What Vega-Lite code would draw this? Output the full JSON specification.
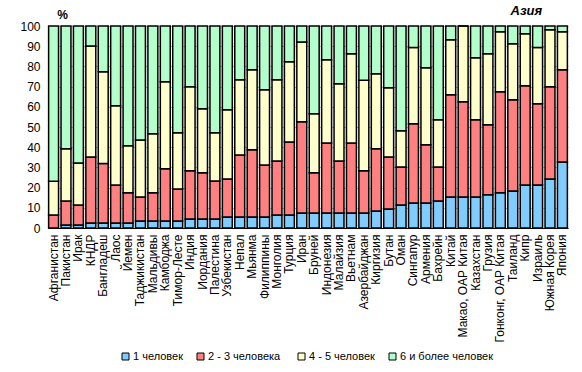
{
  "$schema": "https://vega.github.io/schema/vega-lite/v6.json",
  "width": 520,
  "height": 202,
  "autosize": {"type": "none"},
  "padding": {"left": 48, "top": 26, "right": 14, "bottom": 144},
  "background": "white",
  "config": {
    "font": "Liberation Sans",
    "view": {"stroke": null},
    "axis": {"labelColor": "black", "labelFont": "Liberation Sans", "titleFont": "Liberation Sans"}
  },
  "title": {
    "text": "Азия",
    "anchor": "end",
    "dx": -26,
    "offset": -10,
    "fontSize": 13,
    "fontStyle": "italic",
    "fontWeight": "bold",
    "color": "black",
    "font": "Liberation Sans"
  },
  "data": {
    "values": [
      {"country": "Афганистан", "p1": 0, "p2": 6.4, "p3": 16.7, "p4": 76.9},
      {"country": "Пакистан", "p1": 1.5, "p2": 11.9, "p3": 25.8, "p4": 60.8},
      {"country": "Ирак", "p1": 1.5, "p2": 9.9, "p3": 20.8, "p4": 67.8},
      {"country": "КНДР", "p1": 2.5, "p2": 32.7, "p3": 54.9, "p4": 9.9},
      {"country": "Бангладеш", "p1": 2.5, "p2": 29.4, "p3": 45.5, "p4": 22.6},
      {"country": "Лаос", "p1": 2.5, "p2": 18.8, "p3": 39.2, "p4": 39.5},
      {"country": "Йемен", "p1": 2.5, "p2": 14.9, "p3": 23.3, "p4": 59.3},
      {"country": "Таджикистан", "p1": 3.5, "p2": 11.9, "p3": 28.2, "p4": 56.4},
      {"country": "Мальдивы", "p1": 3.5, "p2": 13.9, "p3": 29.2, "p4": 53.4},
      {"country": "Камбоджа", "p1": 3.5, "p2": 25.8, "p3": 43.1, "p4": 27.6},
      {"country": "Тимор-Лесте", "p1": 3.5, "p2": 15.8, "p3": 27.8, "p4": 52.9},
      {"country": "Индия", "p1": 4.5, "p2": 23.8, "p3": 41.6, "p4": 30.1},
      {"country": "Иордания", "p1": 4.5, "p2": 22.8, "p3": 31.7, "p4": 41.0},
      {"country": "Палестина", "p1": 4.5, "p2": 18.8, "p3": 23.8, "p4": 52.9},
      {"country": "Узбекистан", "p1": 5.5, "p2": 18.8, "p3": 34.2, "p4": 41.5},
      {"country": "Непал", "p1": 5.5, "p2": 30.7, "p3": 37.2, "p4": 26.6},
      {"country": "Мьянма", "p1": 5.5, "p2": 33.2, "p3": 39.6, "p4": 21.7},
      {"country": "Филиппины", "p1": 5.5, "p2": 25.7, "p3": 37.2, "p4": 31.6},
      {"country": "Монголия", "p1": 6.4, "p2": 26.8, "p3": 40.2, "p4": 26.6},
      {"country": "Турция", "p1": 6.4, "p2": 36.2, "p3": 39.7, "p4": 17.7},
      {"country": "Иран", "p1": 7.4, "p2": 45.2, "p3": 39.5, "p4": 7.9},
      {"country": "Бруней", "p1": 7.4, "p2": 19.9, "p3": 29.2, "p4": 43.5},
      {"country": "Индонезия", "p1": 7.4, "p2": 34.7, "p3": 41.2, "p4": 16.7},
      {"country": "Малайзия", "p1": 7.4, "p2": 25.8, "p3": 38.2, "p4": 28.6},
      {"country": "Вьетнам", "p1": 7.4, "p2": 34.7, "p3": 44.2, "p4": 13.7},
      {"country": "Азербайджан", "p1": 7.4, "p2": 20.9, "p3": 44.8, "p4": 26.9},
      {"country": "Киргизия", "p1": 8.4, "p2": 30.8, "p3": 37.2, "p4": 23.6},
      {"country": "Бутан", "p1": 9.4, "p2": 25.8, "p3": 34.2, "p4": 30.6},
      {"country": "Оман", "p1": 11.4, "p2": 18.8, "p3": 17.9, "p4": 51.9},
      {"country": "Сингапур", "p1": 12.4, "p2": 39.2, "p3": 37.7, "p4": 10.7},
      {"country": "Армения", "p1": 12.4, "p2": 28.8, "p3": 38.1, "p4": 20.7},
      {"country": "Бахрейн", "p1": 13.4, "p2": 16.8, "p3": 23.4, "p4": 46.4},
      {"country": "Китай", "p1": 15.4, "p2": 50.6, "p3": 27.2, "p4": 6.8},
      {"country": "Макао, ОАР Китая", "p1": 15.4, "p2": 47.1, "p3": 37.5, "p4": 0},
      {"country": "Казахстан", "p1": 15.4, "p2": 38.2, "p3": 30.7, "p4": 15.7},
      {"country": "Грузия", "p1": 16.4, "p2": 34.7, "p3": 35.2, "p4": 13.7},
      {"country": "Гонконг, ОАР Китая", "p1": 17.4, "p2": 50.0, "p3": 29.8, "p4": 2.8},
      {"country": "Таиланд", "p1": 18.3, "p2": 45.2, "p3": 27.7, "p4": 8.8},
      {"country": "Кипр", "p1": 21.3, "p2": 49.1, "p3": 25.8, "p4": 3.8},
      {"country": "Израиль", "p1": 21.3, "p2": 40.2, "p3": 27.8, "p4": 10.7},
      {"country": "Южная Корея", "p1": 24.3, "p2": 45.6, "p3": 28.3, "p4": 1.8},
      {"country": "Япония", "p1": 32.7, "p2": 45.6, "p3": 18.9, "p4": 2.8}
    ]
  },
  "transform": [
    {"fold": ["p1", "p2", "p3", "p4"], "as": ["group", "value"]}
  ],
  "mark": {"type": "bar", "stroke": "black", "strokeWidth": 1.5},
  "encoding": {
    "x": {
      "field": "country",
      "type": "nominal",
      "sort": null,
      "scale": {"paddingInner": 0.2, "paddingOuter": 0.05},
      "axis": {
        "title": null,
        "labelAngle": -90,
        "labelFontSize": 12,
        "labelPadding": 6,
        "ticks": false,
        "domainColor": "black",
        "labelOverlap": false
      }
    },
    "y": {
      "field": "value",
      "type": "quantitative",
      "stack": "zero",
      "scale": {"domain": [0, 100], "nice": false},
      "axis": {
        "title": "%",
        "titleAngle": 0,
        "titleAlign": "center",
        "titleBaseline": "middle",
        "titleX": 14,
        "titleY": -12,
        "titleFontSize": 12,
        "titleFontWeight": "bold",
        "titleColor": "black",
        "values": [0, 10, 20, 30, 40, 50, 60, 70, 80, 90, 100],
        "labelFontSize": 12,
        "labelPadding": 8,
        "ticks": false,
        "domainColor": "black",
        "grid": true,
        "gridColor": "#b0b0b0",
        "gridWidth": 1
      }
    },
    "color": {
      "field": "group",
      "type": "nominal",
      "scale": {
        "domain": ["p1", "p2", "p3", "p4"],
        "range": ["#80ccff", "#ff8080", "#ffffcc", "#b3ffcc"]
      },
      "legend": {
        "title": null,
        "orient": "none",
        "direction": "horizontal",
        "columns": 4,
        "legendX": 72,
        "legendY": 325,
        "symbolType": "square",
        "symbolSize": 49,
        "symbolStrokeColor": "black",
        "symbolStrokeWidth": 1,
        "symbolOpacity": 1,
        "labelFontSize": 11,
        "labelColor": "black",
        "labelOffset": 2,
        "columnPadding": 12,
        "labelExpr": "datum.value == 'p1' ? '1 человек' : datum.value == 'p2' ? '2 - 3  человека' : datum.value == 'p3' ? '4 - 5 человек' : '6 и более человек'"
      }
    },
    "order": {"field": "group", "type": "nominal", "sort": "ascending"}
  }
}
